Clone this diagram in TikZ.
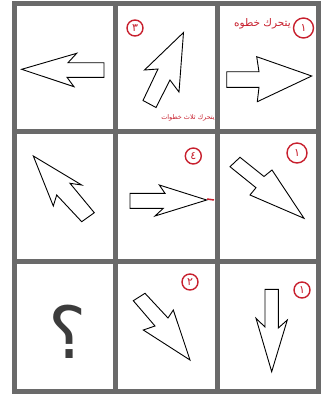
\documentclass[tikz,border=0pt]{standalone}
\usepackage{fontspec}
\newfontfamily\arabicfont[Script=Arabic]{DejaVu Sans}
\TeXXeTstate=1
\definecolor{gridgray}{HTML}{6A6A6A}
\definecolor{numred}{HTML}{C8202E}
\definecolor{qgray}{HTML}{3C3C3C}
\begin{document}
\begin{tikzpicture}[x=1pt,y=-1pt,
  grid/.style={draw=gridgray,line width=5pt},
  arr/.style={draw=black,fill=white,line width=0.9pt,line join=miter},
  num/.style={draw=numred,line width=1.4pt,circle,inner sep=0pt,minimum size=16pt,text=numred,font=\arabicfont\fontsize{11}{11}\selectfont},
  lab/.style={text=numred,inner sep=0pt}]
\useasboundingbox (0,0) rectangle (321,400);
\fill[white] (0,0) rectangle (321,400);
% grid
\draw[grid] (14.5,3.5) rectangle (318.5,391.5);
\draw[grid] (115,3.5) -- (115,391.5);
\draw[grid] (217.5,3.5) -- (217.5,391.5);
\draw[grid] (14.5,131) -- (318.5,131);
\draw[grid] (14.5,261.5) -- (318.5,261.5);
% row 1
\draw[arr] (21.7,69.3) -- (76.7,53.3) -- (68,62.7) -- (104,62.7) -- (104,77.3) -- (67,77.3) -- (74,86.7) -- cycle;
\draw[arr] (183.5,32.5) -- (179,92) -- (170,80) -- (156,107.5) -- (143,100.5) -- (158,69) -- (144.5,70) -- cycle;
\draw[arr] (226.7,71.7) -- (259,71.7) -- (256.7,56.7) -- (311.7,76) -- (257.3,101.7) -- (259,87.3) -- (226.7,87.3) -- cycle;
\node[num] (n1) at (135,28) {٣};
\node[lab,font=\arabicfont\fontsize{6.5}{7}\selectfont] (t1) at (188,118) {\beginR يتحرك ثلاث خطوات\endR};
\node[num,minimum size=20pt] (n2) at (303.5,28) {١};
\node[lab,font=\arabicfont\fontsize{10.5}{11}\selectfont,anchor=east] (t2) at (291,24) {\beginR يتحرك خطوه\endR};
% row 2
\draw[arr] (33.3,156) -- (81.7,185) -- (70,183.3) -- (94.3,212.7) -- (81.7,221.7) -- (56.7,195) -- (53.3,206) -- cycle;
\draw[arr] (130,193.3) -- (165,193.3) -- (159.3,185) -- (206.7,200) -- (155,216) -- (163.3,208.3) -- (130,208.3) -- cycle;
\draw[numred,line width=1.5pt] (207,199) -- (214,200);
\draw[arr] (240,157.3) -- (264,176.5) -- (272,170) -- (304,218.3) -- (250,195) -- (256,187.7) -- (230,166.7) -- cycle;
\node[num] (n3) at (193.3,156) {٤};
\node[num,minimum size=20pt] (n4) at (297,153) {١};
% row 3
\node[inner sep=0pt,text=qgray,font=\arabicfont\fontsize{72}{72}\selectfont] (q) at (68,332) {؟};
\draw[arr] (145,293.3) -- (168,318) -- (173.3,310) -- (190,360) -- (143.3,330) -- (155,326) -- (133.3,300.7) -- cycle;
\draw[arr] (265,289.3) -- (278.3,289.3) -- (278.3,328) -- (287.3,320) -- (271.7,371.7) -- (256,318.3) -- (265,327) -- cycle;
\node[num] (n5) at (190,282) {٢};
\node[num] (n6) at (302,290) {١};
\end{tikzpicture}
\end{document}
